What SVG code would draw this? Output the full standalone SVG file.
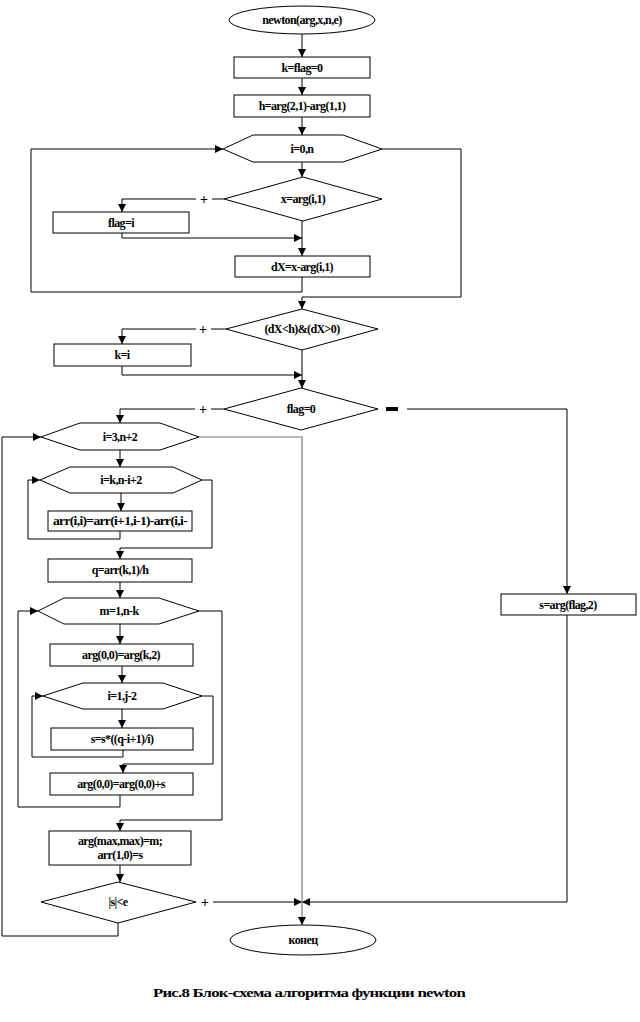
<svg xmlns="http://www.w3.org/2000/svg" width="640" height="1022" viewBox="0 0 640 1022">
<style>
.n{fill:#fff;stroke:#000;stroke-width:1}
.t{font-family:"Liberation Serif","Times New Roman",serif;font-weight:bold;font-size:12px;text-anchor:middle;fill:#000;letter-spacing:-0.6px}
.c{fill:none;stroke:#000;stroke-width:1}
.g{fill:none;stroke:#777;stroke-width:1.2}
.pl{font-family:"Liberation Serif",serif;font-weight:bold;font-size:14px;text-anchor:middle;fill:#000}
</style>
<defs>
<marker id="ah" viewBox="0 0 10 10" refX="10" refY="5" markerWidth="8" markerHeight="8" markerUnits="userSpaceOnUse" orient="auto"><path d="M0,0 L10,5 L0,10 z" fill="#000"/></marker>
</defs>
<rect width="640" height="1022" fill="#fff"/>

<g id="connectors">
<path class="c" d="M302,34 V57" marker-end="url(#ah)"/>
<path class="c" d="M302,78 V95" marker-end="url(#ah)"/>
<path class="c" d="M302,117 V135" marker-end="url(#ah)"/>
<path class="c" d="M302,162 V177" marker-end="url(#ah)"/>
<path class="c" d="M224,199 H212 M196,199 H122 V212" marker-end="url(#ah)"/>
<path class="c" d="M122,233 V238 H302" marker-end="url(#ah)"/>
<path class="c" d="M302,221 V256" marker-end="url(#ah)"/>
<path class="c" d="M302,277 V292 H31 V149 H223" marker-end="url(#ah)"/>
<path class="c" d="M382,149 H461 V297 H302 V309" marker-end="url(#ah)"/>
<path class="c" d="M226,329 H211 M196,329 H122 V344" marker-end="url(#ah)"/>
<path class="c" d="M122,366 V375 H302" marker-end="url(#ah)"/>
<path class="c" d="M302,350 V388" marker-end="url(#ah)"/>
<path class="c" d="M224,409 H211 M195,409 H120 V423" marker-end="url(#ah)"/>
<path class="c" d="M407,409 H567 V594" marker-end="url(#ah)"/>
<path class="c" d="M120,450 V467" marker-end="url(#ah)"/>
<path class="c" d="M121,493 V511" marker-end="url(#ah)"/>
<path class="c" d="M120,531 V539 H28 V480 H40" marker-end="url(#ah)"/>
<path class="c" d="M202,480 H212 V548 H120 V559" marker-end="url(#ah)"/>
<path class="c" d="M120,582 V598" marker-end="url(#ah)"/>
<path class="c" d="M120,624 V644" marker-end="url(#ah)"/>
<path class="c" d="M122,666 V683" marker-end="url(#ah)"/>
<path class="c" d="M122,709 V728" marker-end="url(#ah)"/>
<path class="c" d="M123,750 V757 H32 V696 H43" marker-end="url(#ah)"/>
<path class="c" d="M202,696 H213 V764 H123 V773" marker-end="url(#ah)"/>
<path class="c" d="M120,795 V807 H18 V611 H38" marker-end="url(#ah)"/>
<path class="c" d="M199,611 H222 V820 H120 V831" marker-end="url(#ah)"/>
<path class="c" d="M120,865 V882" marker-end="url(#ah)"/>
<path class="c" d="M213,902 H302" marker-end="url(#ah)"/>
<path class="c" d="M567,615 V902 H302" marker-end="url(#ah)"/>
<path class="g" d="M199,437 H302 V925" marker-end="url(#ah)"/>
<path class="c" d="M118,923 V936 H2 V437 H41" marker-end="url(#ah)"/>
<text class="pl" x="204" y="204">+</text>
<text class="pl" x="203" y="334">+</text>
<text class="pl" x="203" y="414">+</text>
<rect x="386" y="407" width="12" height="4" fill="#000"/>
<text class="pl" x="205" y="907">+</text>
</g>

<g id="start"><ellipse class="n" cx="302" cy="20" rx="73" ry="14"/><text class="t" x="302" y="24">newton(arg,x,n,e)</text></g>
<g id="init1"><rect class="n" x="234" y="57" width="136" height="21"/><text class="t" x="302" y="72">k=flag=0</text></g>
<g id="init2"><rect class="n" x="234" y="95" width="136" height="22"/><text class="t" x="302" y="110">h=arg(2,1)-arg(1,1)</text></g>
<g id="loop1"><polygon class="n" points="223,149 253,135 343,135 382,149 343,162 253,162"/><text class="t" x="302" y="153">i=0,n</text></g>
<g id="cond1"><polygon class="n" points="224,199 303,177 382,199 303,221"/><text class="t" x="303" y="203">x=arg(i,1)</text></g>
<g id="flagi"><rect class="n" x="53" y="212" width="136" height="21"/><text class="t" x="121" y="227">flag=i</text></g>
<g id="dx"><rect class="n" x="235" y="256" width="135" height="21"/><text class="t" x="302" y="271">dX=x-arg(i,1)</text></g>
<g id="cond2"><polygon class="n" points="226,329 302,309 378,329 302,350"/><text class="t" x="302" y="333">(dX&lt;h)&amp;(dX&gt;0)</text></g>
<g id="ki"><rect class="n" x="54" y="344" width="137" height="22"/><text class="t" x="122" y="359">k=i</text></g>
<g id="cond3"><polygon class="n" points="224,409 301,388 378,409 301,430"/><text class="t" x="301" y="413">flag=0</text></g>
<g id="loop2"><polygon class="n" points="41,437 80,423 160,423 199,437 160,450 80,450"/><text class="t" x="120" y="441">i=3,n+2</text></g>
<g id="loop3"><polygon class="n" points="40,480 70,467 173,467 202,480 173,493 70,493"/><text class="t" x="121" y="484">i=k,n-i+2</text></g>
<g id="arr"><rect class="n" x="48" y="511" width="144" height="20"/><text class="t" x="120" y="525" textLength="134" lengthAdjust="spacingAndGlyphs">arr(i,i)=arr(i+1,i-1)-arr(i,i-</text></g>
<g id="q"><rect class="n" x="48" y="559" width="144" height="23"/><text class="t" x="120" y="574">q=arr(k,1)/h</text></g>
<g id="loop4"><polygon class="n" points="38,611 64,598 159,598 199,611 159,624 64,624"/><text class="t" x="119" y="615">m=1,n-k</text></g>
<g id="arg00"><rect class="n" x="50" y="644" width="143" height="22"/><text class="t" x="121" y="659">arg(0,0)=arg(k,2)</text></g>
<g id="loop5"><polygon class="n" points="43,696 83,683 163,683 202,696 163,709 83,709"/><text class="t" x="122" y="700">i=1,j-2</text></g>
<g id="ss"><rect class="n" x="51" y="728" width="142" height="22"/><text class="t" x="122" y="743">s=s*((q-i+1)/i)</text></g>
<g id="argsum"><rect class="n" x="50" y="773" width="143" height="22"/><text class="t" x="121" y="788">arg(0,0)=arg(0,0)+s</text></g>
<g id="argmax"><rect class="n" x="49" y="831" width="142" height="34"/><text class="t" x="120" y="845">arg(max,max)=m;</text><text class="t" x="120" y="859">arr(1,0)=s</text></g>
<g id="cond4"><polygon class="n" points="41,902 118,882 196,902 118,923"/><text class="t" x="118" y="906">|s|&lt;e</text></g>
<g id="sflag"><rect class="n" x="501" y="594" width="135" height="21"/><text class="t" x="568" y="609">s=arg(flag,2)</text></g>
<g id="end"><ellipse class="n" cx="303" cy="940" rx="73" ry="15"/><text class="t" x="303" y="944">конец</text></g>
<text class="t" x="309" y="997" style="font-size:13px" textLength="312" lengthAdjust="spacingAndGlyphs">Рис.8  Блок-схема алгоритма функции newton</text>
</svg>
